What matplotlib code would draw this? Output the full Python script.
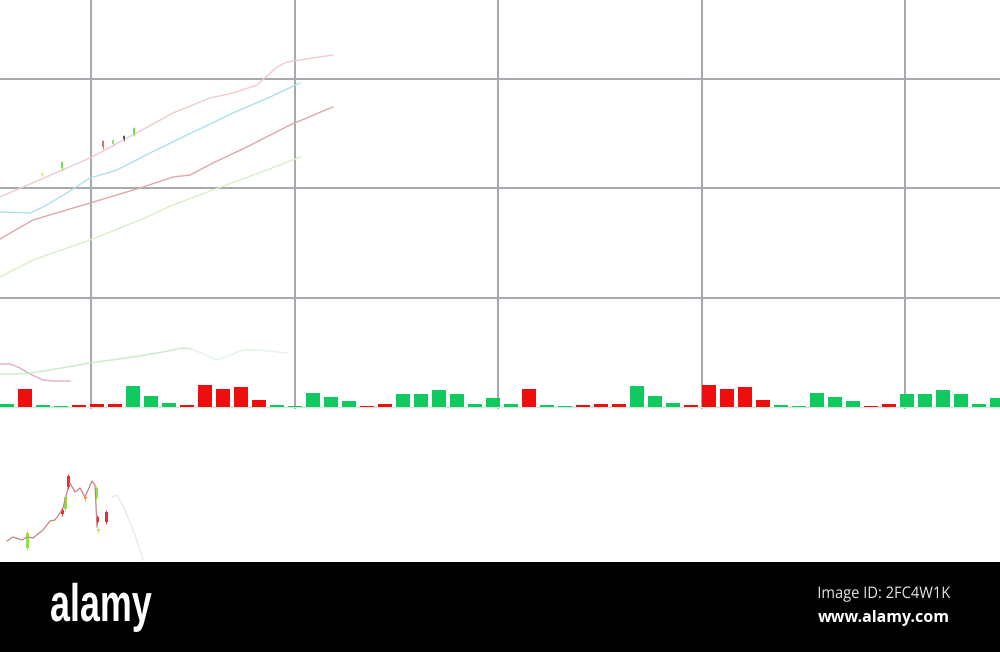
import numpy as np
import matplotlib
matplotlib.use("Agg")
import matplotlib.pyplot as plt
from matplotlib import patheffects
from matplotlib.transforms import Affine2D

# ---------------- data ----------------
# volume bars (height in chart units), direction: 1 = up (green), 0 = down (red)
volume = [3, 18, 2.3, 1.3, 2.3, 3.5, 3.5, 21, 10.7, 4.3, 2.5, 22.3, 18.3, 20,
          7.3, 2, 1, 14.3, 9.7, 6, 1.3, 3, 12.7, 13, 17, 13, 3, 9,
          3, 18, 2.3, 1.3, 2.3, 3.5, 3.5, 21, 10.7, 4.3, 2.5, 22.3, 18.3, 20,
          7.3, 2, 1, 14.3, 9.7, 6, 1.3, 3, 12.7, 13, 17, 13, 3, 9]
direction = [1, 0, 1, 1, 0, 0, 0, 1, 1, 1, 0, 0, 0, 0,
             0, 1, 1, 1, 1, 1, 0, 0, 1, 1, 1, 1, 1, 1,
             1, 0, 1, 1, 0, 0, 0, 1, 1, 1, 0, 0, 0, 0,
             0, 1, 1, 1, 1, 1, 0, 0, 1, 1, 1, 1, 1, 1]

# faint moving-average lines in the upper panel (x: bar index, y: chart units)
ma_pink_x = [-0.39, 4.61, 7.0, 9.22, 11.28, 12.56, 13.89, 15.0, 15.56, 18.1]
ma_pink_y = [210, 249, 272, 294, 309, 314, 322, 340, 345, 352]
ma_cyan_x = [-0.39, 1.28, 2.0, 3.33, 4.61, 6.11, 7.94, 10.0, 12.56, 14.61, 16.28]
ma_cyan_y = [195, 194, 200, 214, 229, 237, 254, 272, 294, 310, 324]
ma_brown_x = [-0.39, 1.44, 4.61, 7.39, 9.22, 10.17, 11.44, 13.33, 15.72, 18.1]
ma_brown_y = [168, 187, 204, 219, 230, 232, 244, 260, 282, 300]
ma_lgreen_x = [-0.39, 1.44, 4.61, 7.39, 9.22, 11.44, 14.44, 16.28]
ma_lgreen_y = [130, 147, 167, 187, 202, 217, 237, 250]
low_pink_x = [-0.39, 0.17, 0.72, 1.28, 2.0, 2.56, 3.5]
low_pink_y = [43, 43, 39, 33, 27, 26, 26]
low_green_x = [-0.39, 0.56, 1.28, 2.39, 4.61, 7.0, 8.67, 9.72, 10.28]
low_green_y = [33, 33, 34, 37, 44, 50, 55, 59, 58]
low_green2_x = [10.28, 11.67, 13.11, 14.06, 15.56]
low_green2_y = [58, 47, 57, 57, 54]

# tiny candles in the upper panel: x (bar index), open, close, color
top_c_x = [1.94, 3.06, 5.33, 5.89, 6.5, 7.06]
top_c_open = [232.5, 239, 266, 263, 268, 273]
top_c_close = [233.5, 245, 260, 267, 271, 279]
top_c_col = ["#c8d86a", "#7ed957", "#e46a6a", "#8ee07a", "#555555", "#7ed957"]

# small candlestick chart bottom-left (x in px-like units, y price units)
cl_x = [7, 13, 22, 27, 33, 43, 50, 55, 60, 63, 68, 70, 75, 80, 85, 92, 95, 97]
cl_y = [21, 25, 22, 25, 24, 32, 41, 42, 49, 54, 74, 79, 70, 74, 65, 81, 77, 35]
cd_x = [27, 62, 65, 68, 85, 96, 97, 98, 106]
cd_open = [14, 48, 53, 75, 63, 64, 40, 31, 40]
cd_close = [29, 52, 65, 86, 65, 74, 45, 33, 50]
cd_col = ["#8fe04a", "#e83030", "#8fe04a", "#e83030", "#e8a040", "#8fe04a", "#e83030", "#c8e060", "#e83030"]
fade_x = [112, 117, 125, 135, 143]
fade_y = [65, 67, 52, 27, 2]


class HStretch(patheffects.AbstractPathEffect):
    """Horizontally condense glyphs around an anchor x (display px)."""
    def __init__(self, sx, x0):
        super().__init__()
        self.sx = sx
        self.x0 = x0

    def draw_path(self, renderer, gc, tpath, affine, rgbFace=None):
        aff = affine + Affine2D().translate(-self.x0, 0).scale(self.sx, 1).translate(self.x0, 0)
        renderer.draw_path(gc, tpath, aff, rgbFace)


# ---------------- figure ----------------
W, H = 1000, 652
fig = plt.figure(figsize=(W / 100, H / 100), dpi=100)
fig.patch.set_facecolor("white")

P = 18.0          # px per bar
x0 = 7.0          # px of bar 0 centre
base_px = 407.0   # baseline px

ax = fig.add_axes([0, (H - base_px - 2) / H, 1, (base_px + 2) / H])
ax.set_xlim(-x0 / P, (W - x0) / P)
ax.set_ylim(-2, base_px)
for s in ax.spines.values():
    s.set_visible(False)
ax.tick_params(length=0, labelbottom=False, labelleft=False)
grid_x = (91 - x0) / P + (203.5 / P) * np.arange(5)
grid_y = 109.5 * np.arange(1, 4)
ax.set_xticks(grid_x)
ax.set_yticks(grid_y)
ax.grid(True, color="#a6a9ae", lw=1.45)
ax.set_axisbelow(True)

idx = np.arange(len(volume))
colors = ["#10c95f" if d else "#f00d0d" for d in direction]
ax.bar(idx, volume, width=14 / P, color=colors, zorder=3)
ax.axhline(0, color="#d3e6da", lw=1.0, zorder=2)

ax.plot(ma_pink_x, ma_pink_y, color="#efcccc", lw=1.0, zorder=1)
ax.plot(ma_cyan_x, ma_cyan_y, color="#ade0ec", lw=1.0, zorder=1)
ax.plot(ma_brown_x, ma_brown_y, color="#dfa8a8", lw=1.0, zorder=1)
ax.plot(ma_lgreen_x, ma_lgreen_y, color="#d8f0ca", lw=1.0, zorder=1)
ax.plot(low_pink_x, low_pink_y, color="#e2b0b8", lw=1.0, zorder=1)
ax.plot(low_green_x, low_green_y, color="#c8ebc8", lw=1.0, zorder=1)
ax.plot(low_green2_x, low_green2_y, color="#e4f4e4", lw=1.0, zorder=1)

for x, o, c, col in zip(top_c_x, top_c_open, top_c_close, top_c_col):
    ax.vlines(x, min(o, c) - 1.5, max(o, c) + 1.5, color=col, lw=0.6, zorder=2)
    ax.bar(x, abs(c - o), bottom=min(o, c), width=0.14, color=col, zorder=2)

# bottom white panel with faint candlestick chart
axl = fig.add_axes([0, (H - 562) / H, 1, (562 - 430) / H])
axl.set_xlim(0, W)
axl.set_ylim(0, 132)
axl.axis("off")
axl.plot(cl_x, cl_y, color="#c98080", lw=0.9)
axl.plot(fade_x, fade_y, color="#e8e8e8", lw=0.9)
for x, o, c, col in zip(cd_x, cd_open, cd_close, cd_col):
    axl.vlines(x, min(o, c) - 2, max(o, c) + 2, color=col, lw=0.6)
    axl.bar(x, max(abs(c - o), 1.5), bottom=min(o, c), width=3, color=col)

# black watermark band
band = fig.add_axes([0, 0, 1, (H - 562) / H])
band.set_facecolor("black")
band.set_xticks([])
band.set_yticks([])
for s in band.spines.values():
    s.set_visible(False)

fig.text(50 / W, 1 - 621 / H, "alamy", color="white", fontsize=38, fontweight="bold",
         family=["Liberation Sans", "DejaVu Sans"], va="baseline", ha="left",
         path_effects=[HStretch(0.68, 50)])
fig.text(950 / W, 1 - 594 / H, "Image ID: 2FC4W1K", color="#e6e6e6", fontsize=11.5,
         family=["Open Sans", "DejaVu Sans"], va="center", ha="right",
         path_effects=[HStretch(0.92, 950)])
fig.text(950 / W, 1 - 618 / H, "www.alamy.com", color="white", fontsize=11.5, fontweight="bold",
         family=["Open Sans", "DejaVu Sans"], va="center", ha="right")

fig.savefig("out.png", dpi=100, facecolor="white")
